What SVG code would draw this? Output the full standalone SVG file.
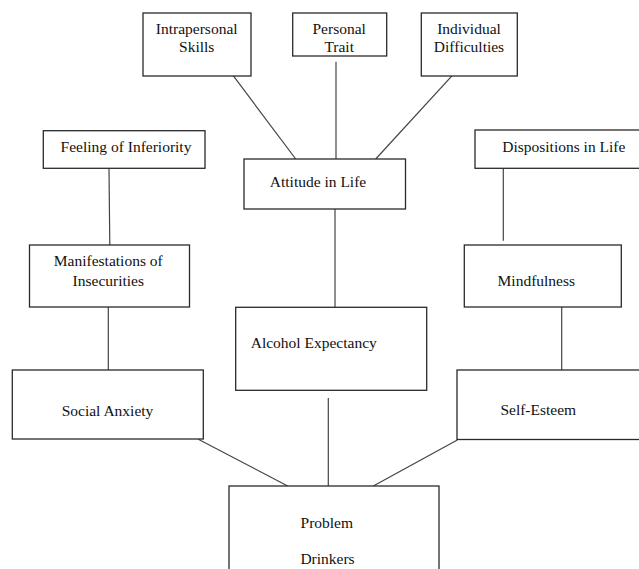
<svg xmlns="http://www.w3.org/2000/svg" width="639" height="569" viewBox="0 0 639 569">
<style>
  .box { fill: #ffffff; stroke: #2a2a2a; stroke-width: 1.3; }
  .lbl { font-family: "Liberation Serif", "Times New Roman", serif; font-size: 15.5px; fill: #111111; }
  .c { text-anchor: middle; }
  .conn line { stroke: #444444; stroke-width: 1.2; fill: none; }
</style>
<rect x="0" y="0" width="639" height="569" fill="#ffffff"/>
<g id="connectors" class="conn">
  <line x1="222.7" y1="61.7" x2="295.7" y2="159"/>
  <line x1="336" y1="61.7" x2="336" y2="159"/>
  <line x1="465" y1="61.7" x2="375.7" y2="159"/>
  <line x1="109" y1="168.3" x2="109.8" y2="245"/>
  <line x1="503.3" y1="168.3" x2="503.3" y2="240.7"/>
  <line x1="108.3" y1="307" x2="108.3" y2="370"/>
  <line x1="335" y1="209" x2="335" y2="307.3"/>
  <line x1="561.7" y1="307" x2="561.7" y2="370"/>
  <line x1="198.3" y1="439.3" x2="287.7" y2="486"/>
  <line x1="457.3" y1="440" x2="373.3" y2="486"/>
  <line x1="328.3" y1="398" x2="328.3" y2="492"/>
</g>
<g id="intrapersonal-skills">
  <rect class="box" x="143" y="13" width="108" height="63"/>
  <text class="lbl c" x="196.7" y="34">Intrapersonal</text>
  <text class="lbl c" x="196.7" y="52">Skills</text>
</g>
<g id="personal-trait">
  <rect class="box" x="292.7" y="13" width="94" height="43"/>
  <text class="lbl c" x="339.2" y="34">Personal</text>
  <text class="lbl c" x="339.2" y="52">Trait</text>
</g>
<g id="individual-difficulties">
  <rect class="box" x="421.3" y="13" width="96" height="63"/>
  <text class="lbl c" x="469" y="34">Individual</text>
  <text class="lbl c" x="469" y="52">Difficulties</text>
</g>
<g id="attitude-in-life">
  <rect class="box" x="244" y="159" width="161.5" height="50"/>
  <text class="lbl c" x="318" y="186.5">Attitude in Life</text>
</g>
<g id="feeling-of-inferiority">
  <rect class="box" x="43.3" y="130.7" width="161.7" height="37.6"/>
  <text class="lbl c" x="126" y="151.7">Feeling of Inferiority</text>
</g>
<g id="dispositions-in-life">
  <rect class="box" x="475" y="130" width="175" height="38.3"/>
  <text class="lbl c" x="563.8" y="151.7">Dispositions in Life</text>
</g>
<g id="manifestations-of-insecurities">
  <rect class="box" x="29.5" y="245" width="160" height="62"/>
  <text class="lbl c" x="108.3" y="265.7">Manifestations of</text>
  <text class="lbl c" x="108.3" y="285.7">Insecurities</text>
</g>
<g id="mindfulness">
  <rect class="box" x="464.3" y="245" width="157" height="62"/>
  <text class="lbl c" x="536.3" y="286">Mindfulness</text>
</g>
<g id="alcohol-expectancy">
  <rect class="box" x="235.7" y="307.3" width="191" height="83"/>
  <text class="lbl" x="250.7" y="348.3">Alcohol Expectancy</text>
</g>
<g id="social-anxiety">
  <rect class="box" x="12.3" y="370" width="191" height="69"/>
  <text class="lbl c" x="107.5" y="415.7">Social Anxiety</text>
</g>
<g id="self-esteem">
  <rect class="box" x="457" y="370" width="195" height="69.5"/>
  <text class="lbl c" x="538.3" y="415">Self-Esteem</text>
</g>
<g id="problem-drinkers">
  <rect class="box" x="229" y="486" width="210" height="100"/>
  <text class="lbl c" x="326.8" y="528">Problem</text>
  <text class="lbl c" x="327.5" y="564">Drinkers</text>
</g>
</svg>
